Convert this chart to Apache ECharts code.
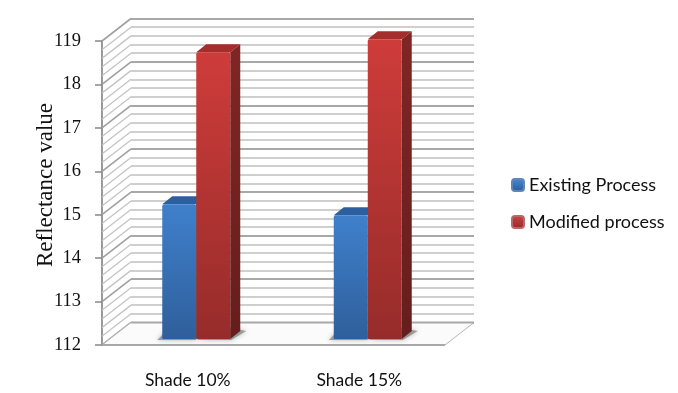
<!DOCTYPE html>
<html><head><meta charset="utf-8">
<style>html,body{margin:0;padding:0;background:#fff}#c{width:678px;height:393px;filter:blur(0.35px)}</style>
<script src="https://cdn.jsdelivr.net/npm/echarts@6/dist/echarts.min.js"></script>
</head><body><div id="c"></div>
<script>
const categories = ['Shade 10%', 'Shade 15%'];
const existingProcess = [115.1, 114.85];
const modifiedProcess = [118.6, 118.9];
const tickLabels = ['112', '113', '14', '15', '16', '17', '18', '119'];
const wallLines = [];
for (let i = 0; i <= 35; i++) wallLines.push([0, 112 + i / 5]);

const DX = 29, DY = -22.5;            // wall depth
const BDX = 8.5, BDY = -6;            // bar base inset on the floor
const SDX = 10, SDY = -8;             // bar depth
const BAR = 34;

function lg(a, b) { return { type: 'linear', x: 0, y: 0, x2: 0, y2: 1, colorStops: [{ offset: 0, color: a }, { offset: 1, color: b }] }; }

function barRender(side, c) {
  return function (params, api) {
    const cat = api.value(0), v = api.value(1);
    const top = api.coord([cat, v]), base = api.coord([cat, 112]);
    const x0 = top[0] + BDX + (side < 0 ? -BAR : 0), x1 = x0 + BAR;
    const yT = top[1] + BDY, yB = base[1] + BDY;
    const kids = [];
    const sh = side < 0
      ? [[x0 - 5, yB + 1], [x1, yB + 1], [x1, yB + SDY], [x0 + 4, yB + SDY]]
      : [[x0, yB + 1], [x1 + 1, yB + 1], [x1 + SDX + 6, yB + SDY], [x1, yB + SDY - 3]];
    kids.push({ type: 'polygon', silent: true, shape: { points: sh },
      style: { fill: 'rgba(110,110,110,0.6)', shadowBlur: 5, shadowColor: 'rgba(110,110,110,0.8)' } });
    kids.push({ type: 'polygon', shape: { points: [[x0, yT], [x1, yT], [x1 + SDX, yT + SDY], [x0 + SDX, yT + SDY]] }, style: { fill: c.top } });
    kids.push({ type: 'polygon', shape: { points: [[x1, yT], [x1 + SDX, yT + SDY], [x1 + SDX, yB + SDY], [x1, yB]] }, style: { fill: lg(c.s1, c.s2) } });
    kids.push({ type: 'rect', shape: { x: x0, y: yT, width: BAR, height: yB - yT, r: [2, 2, 1, 1] }, style: { fill: lg(c.f1, c.f2) } });
    return { type: 'group', children: kids };
  };
}

const blue = { top: '#2b5f9e', s1: '#234f85', s2: '#1e4370', f1: '#3f80cc', f2: '#2f5f9b' };
const red = { top: '#a32e2c', s1: '#802624', s2: '#651e1d', f1: '#ce3c3a', f2: '#962c2a' };

const chart = echarts.init(document.getElementById('c'), null, { renderer: 'canvas' });
chart.setOption({
  animation: false,
  backgroundColor: '#fff',
  grid: [
    { left: 102, right: 233, top: 41, bottom: 48 },
    { left: 131, right: 204, top: 18.5, bottom: 70.5 }
  ],
  legend: {
    orient: 'vertical', left: 506, top: 171, itemWidth: 12, itemHeight: 12, itemGap: 19,
    textStyle: { fontFamily: 'Lato', fontSize: 18, color: '#111', padding: [0, 0, 0, 0] },
    data: ['Existing Process', 'Modified process']
  },
  xAxis: [
    { type: 'category', gridIndex: 0, data: categories,
      axisLine: { show: false }, axisTick: { show: false }, splitLine: { show: false },
      axisLabel: { margin: 26, fontFamily: 'Lato', fontSize: 17.5, color: '#111' } },
    { type: 'category', gridIndex: 1, data: categories, show: false }
  ],
  yAxis: [
    { type: 'value', gridIndex: 0, min: 112, max: 119, interval: 1,
      name: 'Reflectance value', nameLocation: 'middle', nameGap: 45, nameRotate: 90, nameMoveOverlap: false,
      nameTextStyle: { fontFamily: 'Liberation Serif', fontSize: 23, color: '#111', padding: [0, 0, 0, 16] },
      axisLine: { show: true, lineStyle: { color: '#999', width: 2 } },
      axisTick: { show: true, length: 7, lineStyle: { color: '#888', width: 1.5 } },
      splitLine: { show: false },
      axisLabel: { margin: 21, fontFamily: 'Liberation Serif', fontSize: 18.5, color: '#111',
        formatter: v => tickLabels[Math.round(v - 112)] } },
    { type: 'value', gridIndex: 1, min: 112, max: 119, interval: 1,
      axisLine: { show: false }, axisTick: { show: false }, axisLabel: { show: false },
      splitLine: { show: true, lineStyle: { color: '#a8a8a8', width: 2 } },
      minorTick: { show: false, splitNumber: 5 },
      minorSplitLine: { show: true, lineStyle: { color: '#cfcfcf', width: 2 } } }
  ],
  series: [
    { type: 'custom', name: 'walls', silent: true, xAxisIndex: 0, yAxisIndex: 0, z: 1,
      data: wallLines, encode: { x: 0, y: 1 },
      renderItem(params, api) {
        const p = api.coord([0, api.value(1)]), x = params.coordSys.x;
        const major = params.dataIndex % 5 === 0;
        return { type: 'line', shape: { x1: x, y1: p[1], x2: x + DX, y2: p[1] + DY },
          style: { stroke: major ? '#a0a0a0' : '#c4c4c4', lineWidth: major ? 1.6 : 1.3 } };
      } },
    { type: 'custom', name: 'floor', silent: true, xAxisIndex: 0, yAxisIndex: 0, z: 2,
      data: [[0, 112]], encode: { x: 0, y: 1 },
      renderItem(params, api) {
        const p = api.coord([0, 112]), s = params.coordSys, x = s.x, r = s.x + s.width, y = p[1];
        return { type: 'group', children: [
          { type: 'polygon', shape: { points: [[x, y], [r, y], [r + DX, y + DY], [x + DX, y + DY]] },
            style: { fill: '#fbfbfb', stroke: '#b5b5b5', lineWidth: 1 } },
          { type: 'line', shape: { x1: x + DX, y1: y + DY, x2: r + DX, y2: y + DY }, style: { stroke: '#a8a8a8', lineWidth: 2 } },
          { type: 'line', shape: { x1: x, y1: y, x2: r, y2: y }, style: { stroke: '#a8a8a8', lineWidth: 2.2 } }
        ] };
      } },
    { type: 'custom', name: 'Existing Process', xAxisIndex: 0, yAxisIndex: 0, z: 3,
      data: existingProcess.map((v, i) => [i, v]), encode: { x: 0, y: 1 },
      itemStyle: { color: lg('#4a8bd6', '#2a5a96'), borderColor: '#5f86b5', borderWidth: 1 },
      renderItem: barRender(-1, blue) },
    { type: 'custom', name: 'Modified process', xAxisIndex: 0, yAxisIndex: 0, z: 4,
      data: modifiedProcess.map((v, i) => [i, v]), encode: { x: 0, y: 1 },
      itemStyle: { color: lg('#d04442', '#8f2a29'), borderColor: '#b56a69', borderWidth: 1 },
      renderItem: barRender(1, red) }
  ]
});
</script></body></html>
